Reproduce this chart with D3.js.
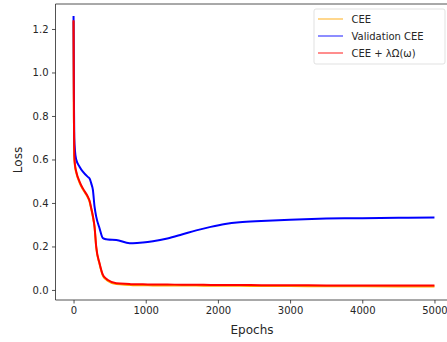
<!DOCTYPE html>
<html>
<head>
<meta charset="utf-8">
<script src="https://cdn.jsdelivr.net/npm/d3@7"></script>
<style>
  body { margin: 0; background: #fff; }
  text { font-family: "DejaVu Sans", sans-serif; fill: #262626; }
</style>
</head>
<body>
<div id="chart"></div>
<script>
// values
var epochs   = [0, 5, 10, 20, 37, 83, 129, 198, 222, 245, 268, 291, 314, 360, 407, 453, 476, 592, 777, 823, 961, 1100, 1300, 1500, 1700, 1900, 2100, 2300, 2600, 3000, 3500, 4000, 4500, 5000];
var valCEE   = [1.26, 0.90, 0.70, 0.64, 0.60, 0.567, 0.544, 0.52, 0.513, 0.49, 0.46, 0.383, 0.337, 0.284, 0.238, 0.233, 0.232, 0.23, 0.215, 0.215, 0.218, 0.224, 0.237, 0.255, 0.274, 0.290, 0.303, 0.311, 0.317, 0.323, 0.328, 0.330, 0.332, 0.333];
var regCEE   = [1.24, 0.80, 0.62, 0.575, 0.545, 0.498, 0.467, 0.429, 0.41, 0.376, 0.34, 0.291, 0.199, 0.123, 0.069, 0.052, 0.046, 0.031, 0.027, 0.026, 0.026, 0.025, 0.025, 0.024, 0.024, 0.023, 0.023, 0.023, 0.022, 0.022, 0.021, 0.021, 0.020, 0.020];
var trainCEE = [1.235, 0.795, 0.615, 0.57, 0.54, 0.494, 0.463, 0.425, 0.406, 0.372, 0.336, 0.287, 0.195, 0.119, 0.065, 0.048, 0.042, 0.027, 0.023, 0.022, 0.022, 0.021, 0.021, 0.020, 0.020, 0.019, 0.019, 0.019, 0.018, 0.018, 0.017, 0.017, 0.016, 0.016];

var xTicks = [0, 1000, 2000, 3000, 4000, 5000];
var yTicks = [0.0, 0.2, 0.4, 0.6, 0.8, 1.0, 1.2];

var seriesNames  = ["CEE", "Validation CEE", "CEE + λΩ(ω)"];
var seriesColors = ["orange", "blue", "red"];

var width = 447, height = 342;
var mLeft = 55.5, mTop = 4, mRight = 452.5, mBottom = 300;

var svg = d3.select("#chart")
    .append("svg")
    .attr("width", width)
    .attr("height", height);

var x = d3.scaleLinear().domain([-250, 5250]).range([mLeft, mRight]);
var y = d3.scaleLinear().domain([-0.0462, 1.3149]).range([mBottom, mTop]);

svg.append("clipPath").attr("id", "clip")
    .append("rect")
    .attr("x", mLeft).attr("y", mTop)
    .attr("width", mRight - mLeft).attr("height", mBottom - mTop);

var line = d3.line()
    .x(function(d){ return x(d[0]); })
    .y(function(d){ return y(d[1]); })
    .curve(d3.curveMonotoneX);

var series = [trainCEE, valCEE, regCEE];
var plot = svg.append("g").attr("clip-path", "url(#clip)");
[0, 1, 2].forEach(function(i){
    plot.append("path")
        .datum(epochs.map(function(e, j){ return [e, series[i][j]]; }))
        .attr("d", line)
        .attr("fill", "none")
        .attr("stroke", seriesColors[i])
        .attr("stroke-width", 2);
});

// axes
var xAxis = svg.append("g")
    .attr("transform", "translate(0," + mBottom + ")")
    .call(d3.axisBottom(x).tickValues(xTicks).tickFormat(d3.format("d")).tickSize(3.5).tickPadding(3.5));
var yAxis = svg.append("g")
    .attr("transform", "translate(" + mLeft + ",0)")
    .call(d3.axisLeft(y).tickValues(yTicks).tickFormat(d3.format(".1f")).tickSize(3.5).tickPadding(3.5));
[xAxis, yAxis].forEach(function(a){
    a.select(".domain").remove();
    a.selectAll("line").attr("stroke", "#262626").attr("stroke-width", 0.8);
    a.selectAll("text").attr("font-size", 10).attr("fill", "#262626");
});

// spines
svg.append("path")
    .attr("d", "M" + mLeft + "," + mBottom + "V" + mTop + "H" + mRight + "M" + mLeft + "," + mBottom + "H" + mRight)
    .attr("fill", "none")
    .attr("stroke", "#262626")
    .attr("stroke-width", 0.8);

svg.append("text")
    .attr("x", (mLeft + mRight) / 2 - 2)
    .attr("y", 334)
    .attr("text-anchor", "middle")
    .attr("font-size", 12)
    .text("Epochs");
svg.append("text")
    .attr("transform", "translate(22," + ((mTop + mBottom) / 2 + 8) + ") rotate(-90)")
    .attr("text-anchor", "middle")
    .attr("font-size", 12)
    .text("Loss");

// legend
var legend = svg.append("g");
legend.append("rect")
    .attr("x", 314).attr("y", 9)
    .attr("width", 131).attr("height", 55)
    .attr("rx", 2)
    .attr("fill", "#fff")
    .attr("fill-opacity", 0.8)
    .attr("stroke", "#d9d9d9")
    .attr("stroke-width", 0.8);
seriesNames.forEach(function(name, i){
    var ly = 19 + i * 17;
    legend.append("line")
        .attr("x1", 318).attr("x2", 343)
        .attr("y1", ly).attr("y2", ly)
        .attr("stroke", seriesColors[i])
        .attr("stroke-opacity", 0.6)
        .attr("stroke-width", 1.5);
    legend.append("text")
        .attr("x", 351.5).attr("y", ly + 3.6)
        .attr("font-size", 10)
        .text(name);
});
</script>
</body>
</html>
